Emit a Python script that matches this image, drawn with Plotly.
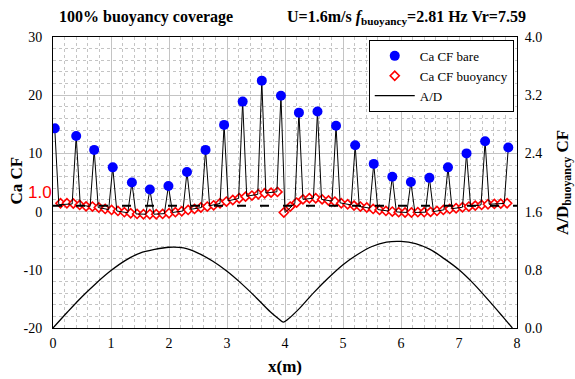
import plotly.graph_objects as go

# Ca CF at the bare (unfaired) sections: spike peaks
x_peak = [0.03, 0.40, 0.71, 1.03, 1.36, 1.67, 1.99, 2.31, 2.63, 2.95, 3.27, 3.60, 3.93,
          4.24, 4.56, 4.88, 5.21, 5.53, 5.85, 6.17, 6.49, 6.81, 7.13, 7.45, 7.85]
ca_bare = [14.3, 13.0, 10.6, 7.6, 5.0, 3.8, 4.4, 6.8, 10.6, 14.9, 18.9, 22.5, 19.9,
           17.0, 17.2, 14.75, 11.4, 8.2, 6.0, 5.1, 5.8, 7.6, 10.0, 12.1, 11.0]
# profile values on either side of each bare section
ca_side_before = [None, 1.3, 0.9, 0.35, -0.2, -0.45, -0.35, 0.1, 0.7, 1.4, 2.25, 2.95, 3.4,
                  1.4, 2.3, 1.8, 1.15, 0.6, 0.1, -0.15, -0.1, 0.3, 0.75, 1.15, 1.4]
ca_side_after = [1.2, 1.1, 0.7, 0.1, -0.4, -0.45, -0.15, 0.4, 1.0, 1.85, 2.65, 3.2, -0.15,
                 2.1, 2.1, 1.5, 0.9, 0.35, -0.05, -0.15, 0.0, 0.5, 0.9, 1.27, None]

# Ca CF along the buoyancy-covered sections
x_buoy = [0.13, 0.24, 0.35, 0.46, 0.57, 0.68, 0.79, 0.90, 1.01, 1.12, 1.23, 1.34, 1.45, 1.56,
          1.67, 1.78, 1.89, 2.00, 2.11, 2.22, 2.33, 2.44, 2.55, 2.66, 2.77, 2.88, 2.99, 3.10,
          3.21, 3.32, 3.43, 3.54, 3.65, 3.76, 3.87,
          3.98, 4.09, 4.20, 4.31, 4.42, 4.53, 4.64, 4.75, 4.86, 4.97, 5.08, 5.19, 5.30, 5.41,
          5.52, 5.63, 5.74, 5.85, 5.96, 6.07, 6.18, 6.29, 6.40, 6.51, 6.62, 6.73, 6.84, 6.95,
          7.06, 7.17, 7.28, 7.39, 7.50, 7.61, 7.72, 7.83]
ca_buoy = [1.44, 1.44, 1.4, 1.15, 0.9, 0.86, 0.7, 0.46, 0.29, 0.12, -0.1, -0.28, -0.4, -0.45,
           -0.45, -0.45, -0.4, -0.28, -0.1, 0.06, 0.29, 0.46, 0.7, 0.86, 1.08, 1.44, 1.72, 2.0,
           2.3, 2.57, 2.75, 2.98, 3.15, 3.26, 3.38,
           -0.15, 0.86, 1.55, 2.1, 2.3, 2.3, 2.1, 1.9, 1.72, 1.44, 1.27, 1.03, 0.86, 0.7,
           0.46, 0.29, 0.12, 0.0, -0.1, -0.15, -0.15, -0.1, -0.1, -0.05, 0.12, 0.29, 0.46, 0.58,
           0.75, 0.86, 1.03, 1.15, 1.27, 1.32, 1.37, 1.44]

# response amplitude A/D (right axis)
x_ad = [0, 0.25, 0.5, 0.75, 1.0, 1.25, 1.5, 1.75, 2.0, 2.25, 2.5, 2.75, 3.0, 3.25, 3.5, 3.75,
        3.9, 3.97, 4.05, 4.25, 4.5, 4.75, 5.0, 5.25, 5.5, 5.75, 6.0, 6.25, 6.5, 6.75, 7.0,
        7.25, 7.5, 7.75, 7.92]
ad = [0.0, 0.22, 0.43, 0.62, 0.79, 0.93, 1.03, 1.08, 1.11, 1.10, 1.03, 0.92, 0.78, 0.61,
      0.42, 0.22, 0.12, 0.08, 0.12, 0.27, 0.49, 0.69, 0.87, 1.01, 1.12, 1.18, 1.19, 1.16,
      1.08, 0.95, 0.80, 0.61, 0.39, 0.16, 0.0]

# left-axis ticks, written with a plain hyphen for negatives
ca_tick_vals = [-20, -10, 0, 10, 20, 30]
ca_tick_text = ["-20", "-10", "0", "10", "20", "30"]

ca_ref = 1.0
spike_half = 0.07

# assemble the bare-riser profile line: side, peak, side for each bare section
x_line, y_line = [], []
for xp, yp, yb, ya in zip(x_peak, ca_bare, ca_side_before, ca_side_after):
    if yb is not None:
        x_line.append(xp - spike_half)
        y_line.append(yb)
    x_line.append(xp)
    y_line.append(yp)
    if ya is not None:
        x_line.append(xp + spike_half)
        y_line.append(ya)

SERIF = "Liberation Serif, Times New Roman, Times, serif"
SANS = "Liberation Sans, Arial, sans-serif"

fig = go.Figure()

fig.add_trace(go.Scatter(x=x_ad, y=ad, yaxis="y2", mode="lines", name="A/D",
                         line=dict(color="black", width=1.3, shape="spline"),
                         legendrank=3))
fig.add_trace(go.Scatter(x=x_buoy, y=ca_buoy, mode="markers", name="Ca CF buoyancy",
                         marker=dict(symbol="diamond", size=7, color="white",
                                     line=dict(color="red", width=1.6)),
                         legendrank=2))
fig.add_trace(go.Scatter(x=x_line, y=y_line, mode="lines", showlegend=False,
                         line=dict(color="black", width=1)))
fig.add_trace(go.Scatter(x=[0, 8], y=[ca_ref, ca_ref], mode="lines", showlegend=False,
                         line=dict(color="black", width=2, dash="9px,14px")))
fig.add_trace(go.Scatter(x=x_peak, y=ca_bare, mode="markers", name="Ca CF bare",
                         marker=dict(symbol="circle", size=10, color="#0000ff"),
                         legendrank=1))

grid = "#c4c4c4"
fig.update_layout(
    width=575, height=379,
    margin=dict(l=53, r=58, t=37, b=51, autoexpand=False),
    paper_bgcolor="white", plot_bgcolor="white",
    font=dict(family=SERIF, size=14, color="black"),
    xaxis=dict(range=[0, 8], dtick=1, showgrid=True, gridcolor=grid, gridwidth=1.2,
               minor=dict(dtick=0.2, showgrid=True, gridcolor=grid, griddash="dot"),
               showline=True, linecolor="black", linewidth=1, mirror=True,
               zeroline=False, ticks="", tickfont=dict(family=SERIF, size=14),
               ticklabelstandoff=2, automargin=False,
               title=dict(text="<b>x(m)</b>", font=dict(family=SERIF, size=17), standoff=10)),
    yaxis=dict(range=[-20, 30], tickmode="array", tickvals=ca_tick_vals,
               ticktext=ca_tick_text, showgrid=True, gridcolor=grid, gridwidth=1.2,
               minor=dict(dtick=2, showgrid=True, gridcolor=grid, griddash="dot"),
               showline=True, linecolor="black", linewidth=1, mirror=True,
               zeroline=False, ticks="", tickfont=dict(family=SERIF, size=14),
               ticklabelstandoff=7, automargin=False),
    yaxis2=dict(range=[0, 4], dtick=0.8, tickformat=".1f", overlaying="y", side="right",
                showgrid=False, zeroline=False, showline=True, linecolor="black",
                ticks="", tickfont=dict(family=SERIF, size=14), ticklabelstandoff=4,
                automargin=False,
                title=dict(text="<b>A/D<sub>buoyancy</sub> CF</b>",
                           font=dict(family=SERIF, size=17), standoff=14)),
    legend=dict(x=0.993, y=0.99, xanchor="right", yanchor="top",
                bgcolor="white", bordercolor="black", borderwidth=1,
                font=dict(family=SERIF, size=13), itemwidth=40, tracegroupgap=0),
    showlegend=True,
)

pw = 575 - 53 - 58
ph = 379 - 37 - 51
head_y = 1 + (37 - 17) / ph

# left axis title, set just outside the tick labels
fig.add_annotation(text="<b>Ca CF</b>", x=0, y=0.5, xref="paper", yref="paper",
                   xanchor="center", yanchor="middle", xshift=-37, yshift=2,
                   textangle=-90, showarrow=False, font=dict(family=SERIF, size=17))
fig.add_annotation(text="<b>100% buoyancy coverage</b>", x=(57 - 53) / pw, y=head_y,
                   xref="paper", yref="paper", xanchor="left", yanchor="middle",
                   showarrow=False, font=dict(family=SERIF, size=16))
fig.add_annotation(text="<b>U=1.6m/s <i>f</i><sub>buoyancy</sub>=2.81 Hz Vr=7.59</b>",
                   x=(285 - 53) / pw, y=head_y, xref="paper", yref="paper",
                   xanchor="left", yanchor="middle",
                   showarrow=False, font=dict(family=SERIF, size=16))
fig.add_annotation(text="1.0", x=0, y=ca_ref, xref="paper", yref="y",
                   xanchor="right", yanchor="bottom", xshift=1, yshift=2,
                   showarrow=False, font=dict(family=SANS, size=17, color="red"))

fig.write_html("out.html")
